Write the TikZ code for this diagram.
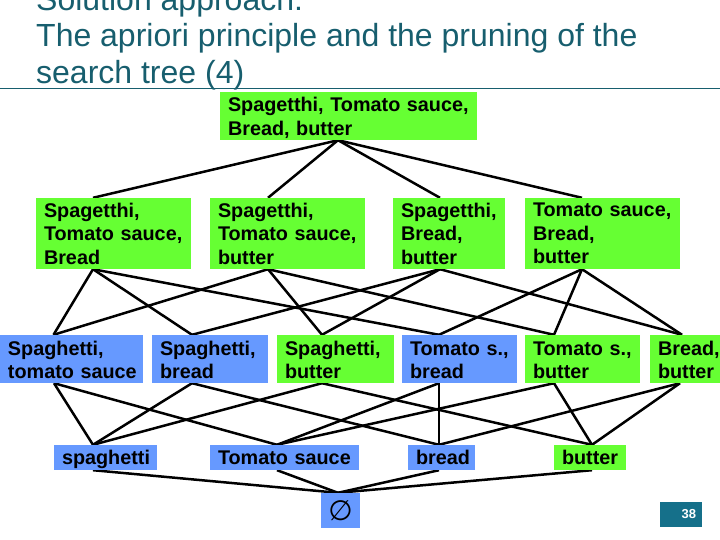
\documentclass[tikz,border=0pt]{standalone}
\usepackage{fontspec}
\setmainfont{Liberation Sans}
\newfontfamily\dejavu{DejaVu Sans}
\usetikzlibrary{backgrounds}
\definecolor{boxgreen}{RGB}{102,255,51}
\definecolor{boxblue}{RGB}{102,153,255}
\definecolor{titleteal}{RGB}{23,94,110}
\definecolor{pageteal}{RGB}{21,112,138}
\newcommand{\nodefnt}{\bfseries\fontsize{19.8}{23.5}\selectfont}
\begin{document}
\begin{tikzpicture}[x=1pt,y=-1pt,
  gbox/.style={fill=boxgreen, inner xsep=8pt, inner ysep=0pt, align=left, font=\nodefnt},
  bbox/.style={gbox, fill=boxblue},
  twoline/.style={minimum height=48pt, text height=18pt, text depth=26pt},
  threeline/.style={minimum height=71pt},
  oneline/.style={minimum height=25pt, text height=16pt, text depth=3pt},
  edge/.style={line width=2.5pt, black},
  titletext/.style={anchor=base west, inner sep=0pt, text=titleteal, font=\fontsize{32}{37}\selectfont}
]
\useasboundingbox (0,0) rectangle (720,540);

% title
\node[titletext] (t1) at (36,10.5) {Solution approach:};
\node[titletext] (t2) at (36,47) {The apriori principle and the pruning of the};
\node[titletext] (t3) at (36,83.5) {search tree (4)};
\draw[titleteal, line width=1.4pt] (0,88.5) -- (720,88.5);

% level 4
\node[gbox, twoline, text width=241pt] (top) at (348.5,116) {Spagetthi,~Tomato~sauce,\\Bread,~butter};

% level 3
\node[gbox, threeline, text width=139pt] (n1) at (113.5,233.5) {Spagetthi,\\Tomato~sauce,\\Bread};
\node[gbox, threeline, text width=139pt] (n2) at (287.5,233.5) {Spagetthi,\\Tomato~sauce,\\butter};
\node[gbox, threeline, text width=96pt] (n3) at (449,233.5) {Spagetthi,\\Bread,\\butter};
\node[gbox, threeline, text width=139pt] (n4) at (602.5,233.5) {Tomato~sauce,\\Bread,\\butter};

% level 2
\node[bbox, twoline, text width=127pt] (a) at (71.5,359) {Spaghetti,\\tomato~sauce};
\node[bbox, twoline, text width=100pt] (b) at (210,359) {Spaghetti,\\bread};
\node[gbox, twoline, text width=101pt] (c) at (335.5,359) {Spaghetti,\\butter};
\node[bbox, twoline, text width=99pt] (d) at (459.5,359) {Tomato~s.,\\bread};
\node[gbox, twoline, text width=99pt] (e) at (582.5,359) {Tomato~s.,\\butter};
\node[gbox, twoline, text width=64pt] (f) at (690,359) {Bread,\\butter};

% level 1
\node[bbox, oneline, text width=87pt] (sp) at (105.5,457.5) {spaghetti};
\node[bbox, oneline, text width=133pt] (ts) at (284.5,457.5) {Tomato~sauce};
\node[bbox, oneline, text width=51pt] (br) at (441.5,457.5) {bread};
\node[gbox, oneline, text width=56pt] (bu) at (590,457.5) {butter};

% empty set
\node[fill=boxblue, minimum width=39pt, minimum height=35pt, inner sep=0pt, font=\dejavu\fontsize{28}{28}\selectfont] (empty) at (340.5,510.5) {∅};

% page number
\node[fill=pageteal, text=white, minimum height=25pt, inner xsep=6pt, inner ysep=0pt, text width=30pt, align=right, font=\bfseries\fontsize{13}{15}\selectfont] (pg) at (681,514.5) {38};

% anchor points
\coordinate (topS) at ([xshift=-10.5pt]top.south);
\coordinate (n1N) at ([xshift=-20.5pt]n1.north);
\coordinate (n1S) at ([xshift=-20.5pt]n1.south);
\coordinate (n2N) at ([xshift=-19.5pt]n2.north);
\coordinate (n2S) at ([xshift=-19.5pt]n2.south);
\coordinate (n3N) at ([xshift=-9pt]n3.north);
\coordinate (n3S) at ([xshift=-9pt]n3.south);
\coordinate (n4N) at ([xshift=-20.5pt]n4.north);
\coordinate (n4S) at ([xshift=-20.5pt]n4.south);
\coordinate (aN) at ([xshift=-18pt]a.north);
\coordinate (aS) at ([xshift=-17.5pt]a.south);
\coordinate (bN) at ([xshift=-18pt]b.north);
\coordinate (bS) at ([xshift=-18pt]b.south);
\coordinate (cN) at ([xshift=-13.5pt]c.north);
\coordinate (cS) at ([xshift=-13.5pt]c.south);
\coordinate (dN) at ([xshift=-20.5pt]d.north);
\coordinate (dS) at ([xshift=-20.5pt]d.south);
\coordinate (eN) at ([xshift=-28.5pt]e.north);
\coordinate (eS) at ([xshift=-28.5pt]e.south);
\coordinate (fN) at ([xshift=-8pt]f.north);
\coordinate (fS) at ([xshift=-10pt]f.south);
\coordinate (spN) at ([xshift=-12.5pt]sp.north);
\coordinate (spS) at ([xshift=-12.5pt]sp.south);
\coordinate (tsN) at ([xshift=-7.5pt]ts.north);
\coordinate (tsS) at ([xshift=-7.5pt]ts.south);
\coordinate (brN) at ([xshift=-2.5pt]br.north);
\coordinate (brS) at ([xshift=-2.5pt]br.south);
\coordinate (buN) at ([xshift=2pt]bu.north);
\coordinate (buS) at ([xshift=2pt]bu.south);
\coordinate (emN) at ([xshift=-2.5pt]empty.north);

\begin{scope}[on background layer]
  \draw[edge] (topS) -- (n1N);
  \draw[edge] (topS) -- (n2N);
  \draw[edge] (topS) -- (n3N);
  \draw[edge] (topS) -- (n4N);
  \draw[edge] (n1S) -- (aN);
  \draw[edge] (n1S) -- (bN);
  \draw[edge] (n1S) -- (dN);
  \draw[edge] (n2S) -- (aN);
  \draw[edge] (n2S) -- (cN);
  \draw[edge] (n2S) -- (eN);
  \draw[edge] (n3S) -- (bN);
  \draw[edge] (n3S) -- (cN);
  \draw[edge] (n3S) -- (fN);
  \draw[edge] (n4S) -- (dN);
  \draw[edge] (n4S) -- (eN);
  \draw[edge] (n4S) -- (fN);
  \draw[edge] (aS) -- (spN);
  \draw[edge] (aS) -- (tsN);
  \draw[edge] (bS) -- (spN);
  \draw[edge] (bS) -- (brN);
  \draw[edge] (cS) -- (spN);
  \draw[edge] (cS) -- (buN);
  \draw[edge] (dS) -- (tsN);
  \draw[edge] (dS) -- (brN);
  \draw[edge] (eS) -- (tsN);
  \draw[edge] (eS) -- (buN);
  \draw[edge] (fS) -- (brN);
  \draw[edge] (fS) -- (buN);
  \draw[edge] (spS) -- (emN);
  \draw[edge] (tsS) -- (emN);
  \draw[edge] (brS) -- (emN);
  \draw[edge] (buS) -- (emN);
\end{scope}
\end{tikzpicture}
\end{document}
